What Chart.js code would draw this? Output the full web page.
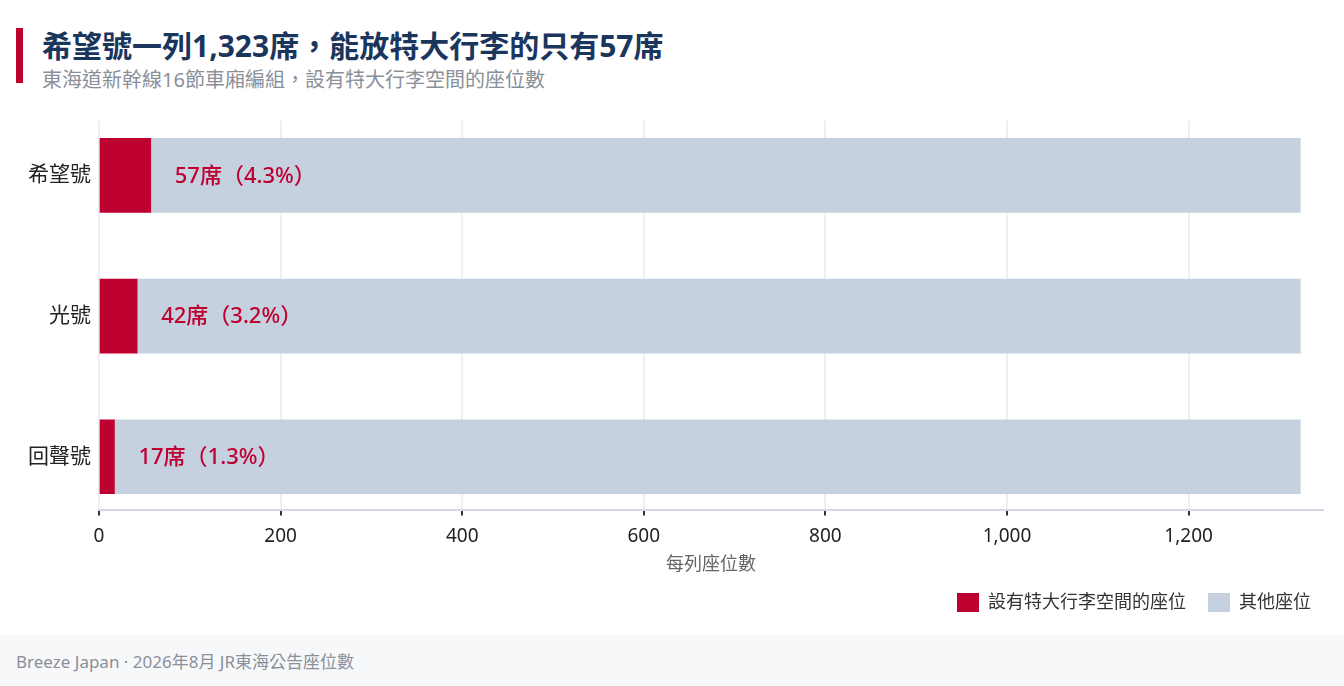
<!DOCTYPE html>
<html>
<head>
<meta charset="utf-8">
<script src="https://cdn.jsdelivr.net/npm/chart.js@4/dist/chart.umd.min.js"></script>
<style>
  body { margin: 0; width: 1344px; height: 686px; background: #fff; font-family: "Noto Sans", "Noto Sans CJK TC", sans-serif; position: relative; overflow: hidden; }
  .accent { position: absolute; left: 16px; top: 28px; width: 7px; height: 55px; background: #be0030; }
  .title { position: absolute; left: 42px; top: 26px; font-size: 30px; font-weight: 700; color: #1b365d; line-height: 40px; white-space: nowrap; }
  .subtitle { position: absolute; left: 42px; top: 66px; font-size: 20px; color: #8a8f99; line-height: 28px; white-space: nowrap; }
  .chart-box { position: absolute; left: 0; top: 100px; width: 1344px; height: 535px; }
  .footer { position: absolute; left: 0; top: 635px; width: 1344px; height: 51px; background: #f7f8fa; }
  .footer span { position: absolute; left: 16px; top: 13px; font-size: 17px; color: #8a8f99; white-space: nowrap; }
</style>
</head>
<body>
<div class="accent"></div>
<div class="title">希望號一列1,323席，能放特大行李的只有57席</div>
<div class="subtitle">東海道新幹線16節車廂編組，設有特大行李空間的座位數</div>
<div class="chart-box"><canvas id="seatChart"></canvas></div>
<div class="footer"><span>Breeze Japan · 2026年8月 JR東海公告座位數</span></div>

<script>
// Data
const trains = ['希望號', '光號', '回聲號'];
const totalSeats = [1323, 1323, 1323];
const luggageSeats = [57, 42, 17];
const otherSeats = [1266, 1281, 1306];
const xTicks = [0, 200, 400, 600, 800, 1000, 1200];

const RED = '#be0030';
const GREY = '#c6d1df';
const FONT = '"Noto Sans", "Noto Sans CJK TC", sans-serif';

// label inside the grey bar, right after the red part
const valueLabels = {
    id: 'valueLabels',
    afterDatasetsDraw(chart) {
        const ctx = chart.ctx;
        const meta = chart.getDatasetMeta(0);
        ctx.save();
        ctx.font = '500 22px ' + FONT;
        ctx.fillStyle = RED;
        ctx.textAlign = 'left';
        ctx.textBaseline = 'middle';
        meta.data.forEach((bar, i) => {
            const pct = (luggageSeats[i] / totalSeats[i] * 100).toFixed(1);
            ctx.fillText(luggageSeats[i] + '席（' + pct + '%）', bar.x + 24, bar.y + 1);
        });
        ctx.restore();
    }
};

// push the legend a little further right than the plot area
const legendShift = {
    id: 'legendShift',
    afterLayout(chart) {
        chart.legend.left += 10;
        chart.legend.right += 10;
    }
};

const ctx = document.getElementById('seatChart').getContext('2d');

new Chart(ctx, {
    type: 'bar',
    data: {
        datasets: [
            {
                label: '設有特大行李空間的座位',
                data: luggageSeats.map((v, i) => ({ x: v, y: i })),
                backgroundColor: RED,
                barThickness: 74,
            },
            {
                label: '其他座位',
                data: otherSeats.map((v, i) => ({ x: v, y: i })),
                backgroundColor: GREY,
                barThickness: 74,
            }
        ]
    },
    options: {
        indexAxis: 'y',
        responsive: true,
        maintainAspectRatio: false,
        animation: false,
        layout: { padding: { top: 20, right: 21, left: 0, bottom: 13 } },
        plugins: {
            tooltip: { enabled: false },
            legend: {
                position: 'bottom',
                align: 'end',
                labels: {
                    boxWidth: 22,
                    boxHeight: 19,
                    padding: 22,
                    color: '#333',
                    font: { family: FONT, size: 18 }
                }
            }
        },
        scales: {
            x: {
                stacked: true,
                min: 0,
                max: 1348,
                afterBuildTicks(scale) {
                    scale.ticks = xTicks.map(v => ({ value: v }));
                },
                grid: {
                    color: '#eef0f4',
                    lineWidth: 2,
                    tickColor: '#333',
                    tickLength: 6,
                    tickWidth: 2
                },
                border: { color: '#d4d7e2', width: 2 },
                ticks: {
                    color: '#222',
                    padding: 10,
                    font: { family: FONT, size: 19 },
                    callback: v => v.toLocaleString('en-US')
                },
                title: {
                    display: true,
                    text: '每列座位數',
                    color: '#666',
                    padding: { top: -4, bottom: -5 },
                    font: { family: FONT, size: 18 }
                }
            },
            y: {
                type: 'linear',
                stacked: true,
                reverse: true,
                offset: false,
                min: -0.39,
                max: 2.376,
                afterBuildTicks(scale) {
                    scale.ticks = trains.map((t, i) => ({ value: i }));
                },
                afterFit(scale) {
                    scale.width = 99;
                },
                grid: { display: false, drawTicks: false, offset: false },
                border: { display: false },
                ticks: {
                    color: '#222',
                    padding: 8,
                    font: { family: FONT, size: 21 },
                    callback: v => trains[v] || ''
                }
            }
        }
    },
    plugins: [valueLabels, legendShift]
});
</script>
</body>
</html>
